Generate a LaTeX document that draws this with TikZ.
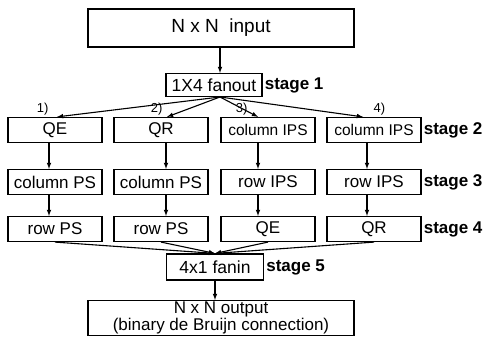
\documentclass[tikz,border=0pt]{standalone}
\usepackage{fontspec}
\setmainfont{Liberation Sans}
\usetikzlibrary{arrows}

\begin{document}
\begin{tikzpicture}[x=1pt,y=-1pt]
    \tikzset{box/.style = {shape=rectangle, draw, line width=1.2pt, minimum width=94pt, minimum height=25pt, inner sep=1pt, font=\fontsize{17}{18}\selectfont}}
    \tikzset{big/.style = {box, minimum width=266pt, font=\fontsize{19}{20}\selectfont}}
    \tikzset{stagelbl/.style = {anchor=west, inner sep=2pt, font=\fontsize{17}{18}\selectfont\bfseries}}
    \tikzset{numlbl/.style = {inner sep=1pt, font=\fontsize{13}{14}\selectfont}}
    \tikzset{edge/.style = {draw, line width=1.1pt, -latex}}

    \useasboundingbox (0,0) rectangle (486,352);

    % vertices
    \node[big, minimum height=38pt] (inp) at (221,28) {N x N\ \ input};
    \node[box, minimum width=96pt, minimum height=23pt, font=\fontsize{17.5}{18}\selectfont] (fo) at (214,85) {1X4 fanout};
    \node[stagelbl] (s1) at (fo.east) {stage 1};

    \node[box] (a1) at (55,130) {QE};
    \node[box] (a2) at (161,130) {QR};
    \node[box, font=\fontsize{15.5}{16}\selectfont] (a3) at (268,130) {column IPS};
    \node[box, font=\fontsize{15.5}{16}\selectfont] (a4) at (374,130) {column IPS};
    \node[stagelbl] (s2) at (a4.east) {stage 2};

    \node[box] (b1) at (55,182) {column PS};
    \node[box] (b2) at (161,182) {column PS};
    \node[box] (b3) at (268,182) {row IPS};
    \node[box] (b4) at (374,182) {row IPS};
    \node[stagelbl] (s3) at (b4.east) {stage 3};

    \node[box] (c1) at (55,229) {row PS};
    \node[box] (c2) at (161,229) {row PS};
    \node[box] (c3) at (268,229) {QE};
    \node[box] (c4) at (374,229) {QR};
    \node[stagelbl] (s4) at (c4.east) {stage 4};

    \node[box, minimum width=97pt, minimum height=26pt, font=\fontsize{17.5}{18}\selectfont] (fi) at (215,267) {4x1 fanin};
    \node[stagelbl] (s5) at (fi.east) {stage 5};

    \node[big, minimum height=35pt, align=center, inner sep=0pt, font=\fontsize{17}{15}\selectfont] (out) at (221,318) {N x N output\\(binary de Bruijn connection)};

    % edges
    \coordinate (fs) at (220,97);
    \draw[edge] (inp.south -| fs) -- (fo.north -| fs);
    \draw[edge] (fs) -- node[numlbl, pos=1, above left, xshift=-7pt]{1)} ([xshift=2pt]a1.north);
    \draw[edge] (fs) -- node[numlbl, pos=1, above left, xshift=-3pt]{2)} ([xshift=6pt]a2.north);
    \draw[edge] (fs) -- node[numlbl, pos=1, above left, xshift=-9pt]{3)} ([xshift=-10pt]a3.north);
    \draw[edge] (fs) -- node[numlbl, pos=1, above right, xshift=9pt]{4)} ([xshift=-11pt]a4.north);

    \draw[edge] ([xshift=-6pt]a1.south) -- ([xshift=-6pt]b1.north);
    \draw[edge] ([xshift=5pt]a2.south) -- ([xshift=5pt]b2.north);
    \draw[edge] ([xshift=-10pt]a3.south) -- ([xshift=-10pt]b3.north);
    \draw[edge] ([xshift=-7pt]a4.south) -- ([xshift=-7pt]b4.north);

    \draw[edge] ([xshift=-6pt]b1.south) -- ([xshift=-6pt]c1.north);
    \draw[edge] ([xshift=5pt]b2.south) -- ([xshift=5pt]c2.north);
    \draw[edge] ([xshift=-10pt]b3.south) -- ([xshift=-10pt]c3.north);
    \draw[edge] ([xshift=-7pt]b4.south) -- ([xshift=-7pt]c4.north);

    \draw[edge] (c1.south) -- (fi.north);
    \draw[edge] (c2.south) -- (fi.north);
    \draw[edge] (c3.south) -- (fi.north);
    \draw[edge] (c4.south) -- (fi.north);

    \draw[edge] (fi.south) -- (out.north -| fi);
\end{tikzpicture}
\end{document}
